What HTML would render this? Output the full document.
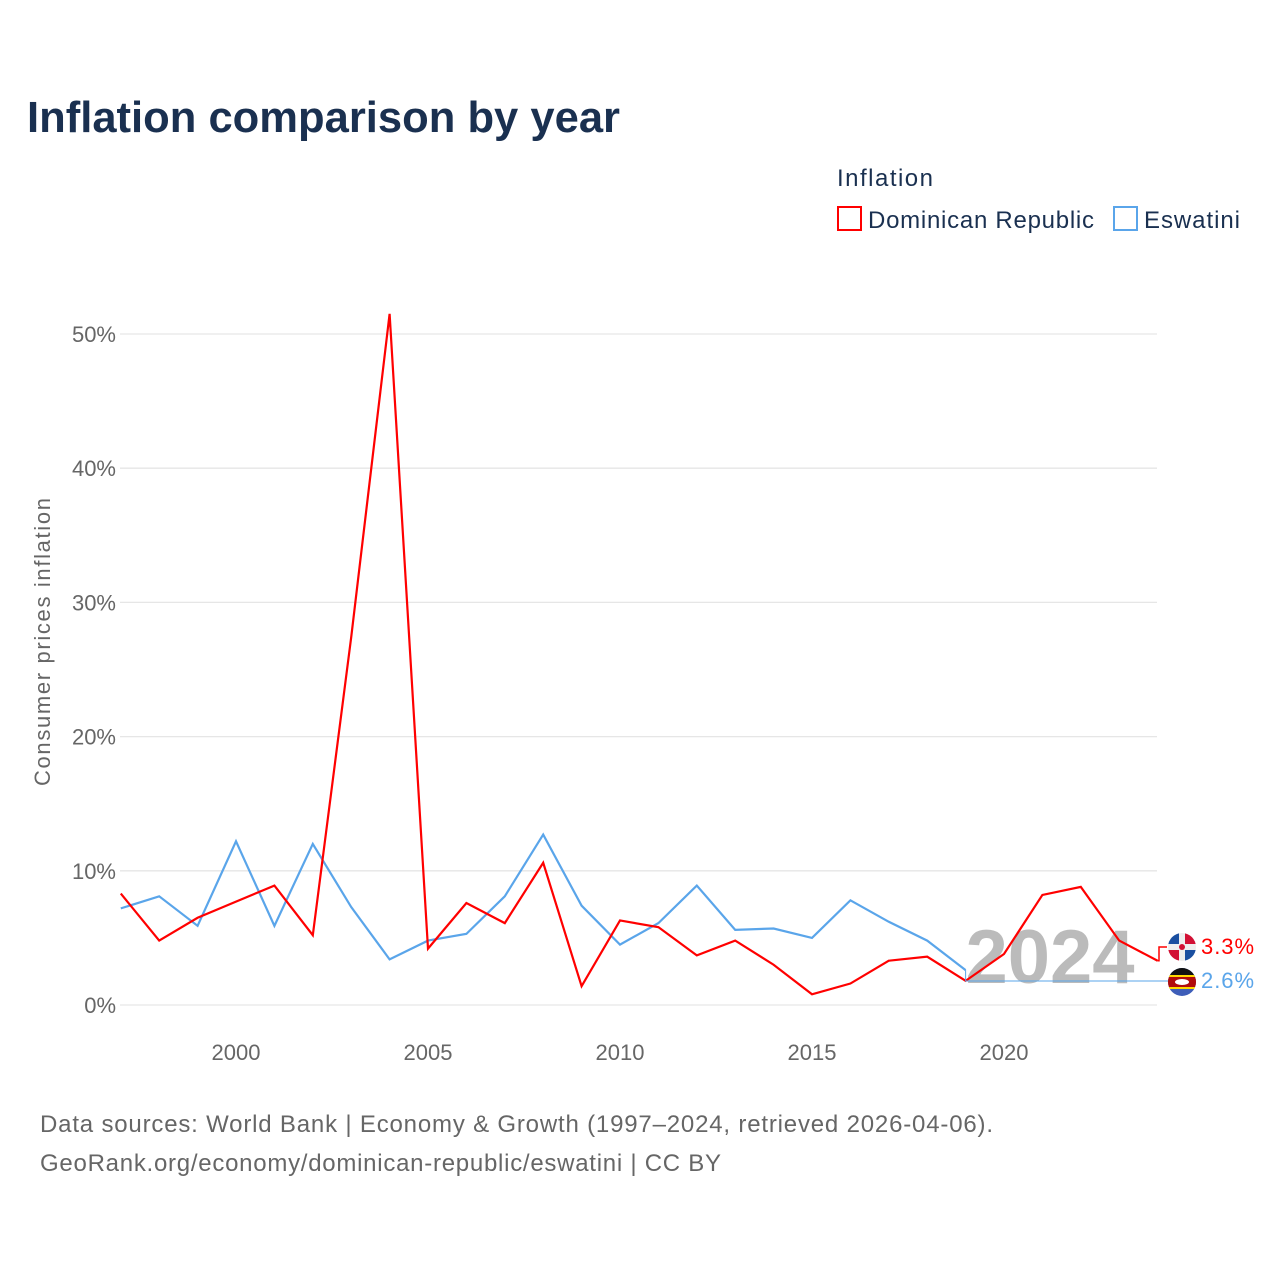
<!DOCTYPE html>
<html><head><meta charset="utf-8"><style>
body{margin:0;background:#fff;font-family:"Liberation Sans",sans-serif}
svg text{font-family:"Liberation Sans",sans-serif}
</style></head><body>
<svg width="1280" height="1280" xmlns="http://www.w3.org/2000/svg">
<defs><clipPath id="fc"><circle cx="1182" cy="982" r="14"/></clipPath><clipPath id="fd"><circle cx="1182" cy="947" r="14"/></clipPath></defs>
<text x="27" y="132" font-size="44" font-weight="bold" fill="#1a3050" textLength="593" lengthAdjust="spacingAndGlyphs">Inflation comparison by year</text>
<text x="837" y="186" font-size="24" fill="#1a3050" textLength="96">Inflation</text>
<g><rect x="838" y="207" width="23" height="23" fill="none" stroke="#ff0000" stroke-width="2"/><text x="868" y="228" font-size="24" fill="#1a3050" textLength="226">Dominican Republic</text></g>
<g><rect x="1114" y="207" width="23" height="23" fill="none" stroke="#5aa5ea" stroke-width="2"/><text x="1144" y="228" font-size="24" fill="#1a3050" textLength="96">Eswatini</text></g>
<g id="grid"></g>
<text transform="translate(50,642) rotate(-90)" text-anchor="middle" font-size="22" fill="#666" textLength="288">Consumer prices inflation</text>
<text x="1050" y="983" text-anchor="middle" font-size="76" font-weight="bold" fill="#bbb">2024</text>
<g id="marks"></g>
<g clip-path="url(#fd)"><rect x="1168" y="933" width="28" height="28" fill="#eee"/><rect x="1168" y="933" width="11" height="11" fill="#1a4fa0"/><rect x="1185" y="950" width="11" height="11" fill="#1a4fa0"/><rect x="1185" y="933" width="11" height="11" fill="#d21034"/><rect x="1168" y="950" width="11" height="11" fill="#d21034"/><circle cx="1182" cy="947" r="3" fill="#d21034"/></g>
<g clip-path="url(#fc)"><rect x="1168" y="968" width="28" height="28" fill="#3e5eb9"/><rect x="1168" y="968" width="28" height="8" fill="#111"/><rect x="1168" y="975" width="28" height="2" fill="#ffd900"/><rect x="1168" y="977" width="28" height="10" fill="#b10c0c"/><rect x="1168" y="987" width="28" height="2" fill="#ffd900"/><ellipse cx="1182" cy="982" rx="7" ry="3" fill="#fff"/></g>
<text x="1201" y="954" font-size="22" fill="#ff0000" textLength="53">3.3%</text>
<text x="1201" y="988" font-size="22" fill="#5aa5ea" textLength="53">2.6%</text>
<text x="40" y="1132" font-size="24" fill="#666" textLength="953">Data sources: World Bank | Economy &amp; Growth (1997–2024, retrieved 2026-04-06).</text>
<text x="40" y="1171" font-size="24" fill="#666" textLength="681">GeoRank.org/economy/dominican-republic/eswatini | CC BY</text>
</svg>
<script>
const years=[1997,1998,1999,2000,2001,2002,2003,2004,2005,2006,2007,2008,2009,2010,2011,2012,2013,2014,2015,2016,2017,2018,2019,2020,2021,2022,2023,2024];
const drValues=[8.3,4.8,6.5,7.7,8.9,5.2,27.4,51.5,4.2,7.6,6.1,10.6,1.4,6.3,5.8,3.7,4.8,3.0,0.8,1.6,3.3,3.6,1.8,3.8,8.2,8.8,4.8,3.3];
const swValues=[7.2,8.1,5.9,12.2,5.9,12.0,7.3,3.4,4.8,5.3,8.1,12.7,7.4,4.5,6.1,8.9,5.6,5.7,5.0,7.8,6.2,4.8,2.6];
const yTicks=[0,10,20,30,40,50];
const xTicks=[2000,2005,2010,2015,2020];
const NS="http://www.w3.org/2000/svg";
const X=y=>120.8+(y-1997)*38.4;
const Y=v=>1005-v*13.42;
const grid=document.getElementById('grid'),marks=document.getElementById('marks');
yTicks.forEach(t=>{
 const l=document.createElementNS(NS,'line');
 l.setAttribute('x1',120);l.setAttribute('x2',1157);l.setAttribute('y1',Y(t));l.setAttribute('y2',Y(t));
 l.setAttribute('stroke','#e6e6e6');l.setAttribute('stroke-width',1.3);
 
 
 grid.appendChild(l);
 const tx=document.createElementNS(NS,'text');
 tx.setAttribute('x',116);tx.setAttribute('y',Y(t)+8);tx.setAttribute('text-anchor','end');
 tx.setAttribute('font-size',22);tx.setAttribute('fill','#666');tx.textContent=t+'%';
 
 
 grid.appendChild(tx);
});
xTicks.forEach(t=>{
 const tx=document.createElementNS(NS,'text');
 tx.setAttribute('x',X(t));tx.setAttribute('y',1060);tx.setAttribute('text-anchor','middle');
 tx.setAttribute('font-size',22);tx.setAttribute('fill','#666');tx.textContent=t;
 
 
 grid.appendChild(tx);
});
function line(vals,color,name){
 const p=document.createElementNS(NS,'polyline');
 p.setAttribute('points',vals.map((v,i)=>X(years[i])+','+Y(v)).join(' '));
 p.setAttribute('fill','none');p.setAttribute('stroke',color);p.setAttribute('stroke-width',2.2);
 p.setAttribute('stroke-linejoin','miter');
 
 
 marks.appendChild(p);
}
line(swValues,'#5aa5ea','line-eswatini');
line(drValues,'#ff0000','line-dominican-republic');
const swLast=swValues.length-1;
const lead=document.createElementNS(NS,'polyline');
lead.setAttribute('points',X(years[swLast])+','+Y(swValues[swLast])+' '+X(years[swLast])+',981 1168,981');
lead.setAttribute('fill','none');lead.setAttribute('stroke','#5aa5ea');lead.setAttribute('stroke-width',1);


marks.appendChild(lead);
const lead2=document.createElementNS(NS,'polyline');
const drLast=drValues.length-1;
lead2.setAttribute('points',X(years[drLast])+','+Y(drValues[drLast])+' 1159,'+Y(drValues[drLast])+' 1159,947 1167,947');
lead2.setAttribute('fill','none');lead2.setAttribute('stroke','#ff0000');lead2.setAttribute('stroke-width',1.5);


marks.appendChild(lead2);
</script>
</body></html>
